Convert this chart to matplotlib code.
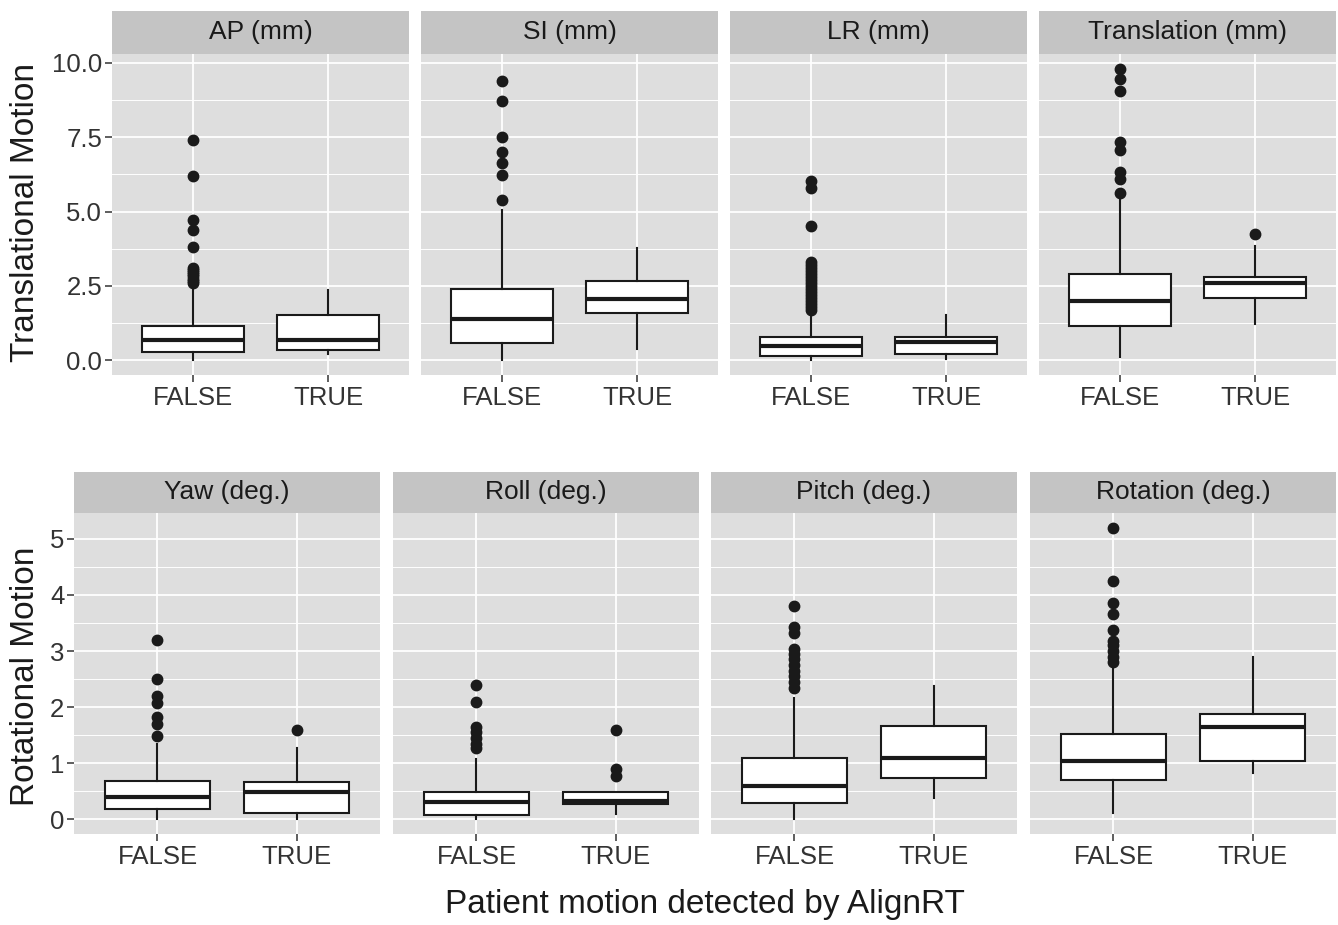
import matplotlib
matplotlib.use("Agg")
import matplotlib.pyplot as plt
from matplotlib.ticker import FixedLocator

plt.rcParams['font.family'] = ['Liberation Sans', 'DejaVu Sans']

# ---------------- data ----------------
groups = ["FALSE", "TRUE"]
titles = ["AP (mm)", "SI (mm)", "LR (mm)", "Translation (mm)",
          "Yaw (deg.)", "Roll (deg.)", "Pitch (deg.)", "Rotation (deg.)"]
row_labels = ["Translational Motion", "Rotational Motion"]
x_title = "Patient motion detected by AlignRT"
top_ticks = [0.0, 2.5, 5.0, 7.5, 10.0]
top_ticklabels = ["0.0", "2.5", "5.0", "7.5", "10.0"]
bottom_ticks = [0, 1, 2, 3, 4, 5]
bottom_ticklabels = ["0", "1", "2", "3", "4", "5"]

# per panel: [FALSE, TRUE]
whisker_low = [[0.00, 0.20], [0.00, 0.39], [0.00, 0.06], [0.13, 1.21],
               [0.00, 0.00], [0.00, 0.09], [0.00, 0.39], [0.11, 0.83]]
q1 = [[0.28, 0.36], [0.58, 1.59], [0.16, 0.20], [1.14, 2.09],
      [0.19, 0.12], [0.08, 0.27], [0.29, 0.73], [0.70, 1.04]]
median = [[0.69, 0.69], [1.40, 2.05], [0.50, 0.62], [2.01, 2.60],
          [0.40, 0.49], [0.31, 0.33], [0.60, 1.10], [1.04, 1.64]]
q3 = [[1.17, 1.53], [2.39, 2.68], [0.78, 0.78], [2.91, 2.80],
      [0.68, 0.67], [0.49, 0.48], [1.09, 1.67], [1.52, 1.88]]
whisker_high = [[2.46, 2.37], [5.06, 3.78], [1.62, 1.51], [5.48, 3.83],
                [1.34, 1.28], [1.07, 0.48], [2.17, 2.38], [2.77, 2.89]]
outliers_false = [
    [7.40, 6.20, 4.72, 4.38, 3.80, 3.12, 3.05, 2.98, 2.90, 2.82, 2.75, 2.68, 2.60],
    [9.40, 8.70, 7.49, 7.01, 6.62, 6.22, 5.39],
    [6.04, 5.79, 4.50, 3.30, 3.20, 3.10, 3.00, 2.90, 2.80, 2.70, 2.60, 2.50,
     2.40, 2.30, 2.20, 2.10, 2.00, 1.90, 1.80, 1.70],
    [9.79, 9.45, 9.06, 7.33, 7.05, 6.32, 6.10, 5.63],
    [3.20, 2.50, 2.20, 2.08, 1.82, 1.70, 1.49],
    [2.39, 2.10, 1.64, 1.55, 1.45, 1.35, 1.28],
    [3.81, 3.42, 3.33, 3.04, 2.95, 2.85, 2.75, 2.65, 2.55, 2.45, 2.35],
    [5.19, 4.24, 3.86, 3.66, 3.38, 3.18, 3.10, 3.00, 2.90, 2.80],
]
outliers_true = [[], [], [], [4.25], [1.60], [1.60, 0.89, 0.77], [], []]

# ---------------- layout / style ----------------
W, H = 1338, 925
fig = plt.figure(figsize=(W / 100, H / 100), dpi=100)
fig.patch.set_facecolor("white")

PANEL_BG = "#DEDEDE"
STRIP_BG = "#C4C4C4"
TXT = "#1A1A1A"
TICK_TXT = "#333333"

rows = [
    dict(x0=[112, 421, 730, 1039], w=297, strip_top=11, panel_top=54, panel_bot=375,
         ylim=(-0.49, 10.29), ticks=top_ticks, ticklabels=top_ticklabels, minor=[1.25, 3.75, 6.25, 8.75]),
    dict(x0=[74, 393, 711, 1030], w=306, strip_top=472, panel_top=513, panel_bot=834,
         ylim=(-0.26, 5.46), ticks=bottom_ticks, ticklabels=bottom_ticklabels,
         minor=[0.5, 1.5, 2.5, 3.5, 4.5]),
]


def fx(px):
    return px / W


def fy(py):
    return 1 - py / H


for r, row in enumerate(rows):
    for c in range(4):
        k = r * 4 + c
        x0 = row["x0"][c]
        w = row["w"]
        ax = fig.add_axes([fx(x0), fy(row["panel_bot"]), w / W,
                           (row["panel_bot"] - row["panel_top"]) / H])
        ax.set_facecolor(PANEL_BG)
        for s in ax.spines.values():
            s.set_visible(False)
        ax.set_xlim(0.4, 2.6)
        ax.set_ylim(*row["ylim"])
        # grid
        for m in row["minor"]:
            ax.axhline(m, color="white", lw=0.7, zorder=0.5)
        for t in row["ticks"]:
            ax.axhline(t, color="white", lw=1.3, zorder=0.6)
        for xp in (1, 2):
            ax.axvline(xp, color="white", lw=1.3, zorder=0.6)

        stats = []
        for g in range(2):
            stats.append(dict(
                med=median[k][g], q1=q1[k][g], q3=q3[k][g],
                whislo=whisker_low[k][g], whishi=whisker_high[k][g],
                fliers=(outliers_false[k] if g == 0 else outliers_true[k]),
            ))
        ax.bxp(stats, positions=[1, 2], widths=0.75, showcaps=False,
               patch_artist=True, manage_ticks=False,
               boxprops=dict(facecolor="white", edgecolor="#1A1A1A", linewidth=1.5),
               medianprops=dict(color="#1A1A1A", linewidth=3.0),
               whiskerprops=dict(color="#1A1A1A", linewidth=1.5),
               flierprops=dict(marker="o", markerfacecolor="#1A1A1A",
                               markeredgecolor="#1A1A1A", markersize=7.5))

        ax.set_xticks([1, 2])
        ax.set_xticklabels(groups, fontsize=18.5, color=TICK_TXT)
        ax.yaxis.set_major_locator(FixedLocator(row["ticks"]))
        if c == 0:
            ax.set_yticklabels(row["ticklabels"], fontsize=18.5, color=TICK_TXT)
            ax.tick_params(axis="y", length=5, width=1.1, color="#333333", pad=2)
        else:
            ax.tick_params(axis="y", length=0, labelleft=False)
        ax.tick_params(axis="x", length=5, width=1.1, color="#333333", pad=3)

        # strip
        sax = fig.add_axes([fx(x0), fy(row["panel_top"]), w / W,
                            (row["panel_top"] - row["strip_top"]) / H])
        sax.set_facecolor(STRIP_BG)
        sax.set_xticks([])
        sax.set_yticks([])
        for s in sax.spines.values():
            s.set_visible(False)
        sax.text(0.5, 0.5, titles[k], ha="center", va="center",
                 fontsize=19, color=TXT, transform=sax.transAxes)

fig.text(fx(26), fy(213), row_labels[0], rotation=90, ha="center", va="center",
         fontsize=24, color=TXT)
fig.text(fx(26), fy(676), row_labels[1], rotation=90, ha="center", va="center",
         fontsize=24, color=TXT)
fig.text(fx(705), fy(905), x_title, ha="center", va="center", fontsize=24, color=TXT)

fig.savefig("out.png", dpi=100, facecolor="white")
